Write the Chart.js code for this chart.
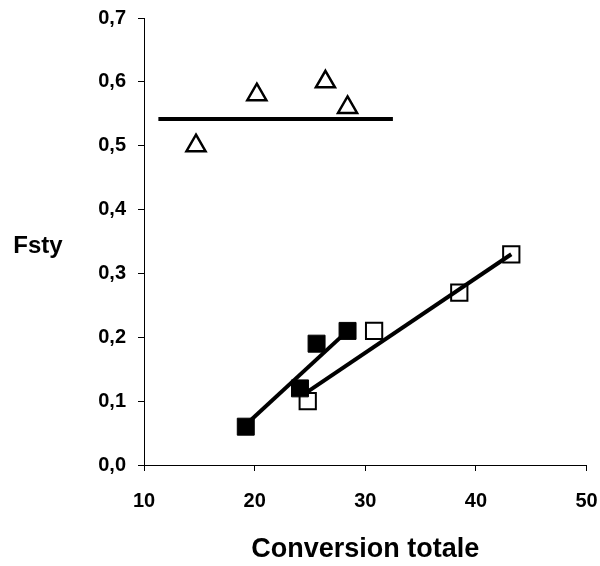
<!DOCTYPE html>
<html>
<head>
<meta charset="utf-8">
<script src="https://cdn.jsdelivr.net/npm/chart.js@4"></script>
<style>
  html, body { margin: 0; padding: 0; background: #fff; }
  #wrap { width: 600px; height: 566px; }
</style>
</head>
<body>
<div id="wrap"><canvas id="fsty"></canvas></div>
<script>
// triangles
const triX = [14.7, 20.2, 26.4, 28.4];
const triY = [0.50, 0.58, 0.60, 0.56];
const triFitX = [11.3, 32.5];
const triFitY = [0.542, 0.542];

// filled squares
const fillX = [19.2, 24.1, 25.6, 28.4];
const fillY = [0.06, 0.12, 0.19, 0.21];
const fillFitX = [19.2, 28.4];
const fillFitY = [0.063, 0.21];

// open squares
const openX = [24.8, 30.8, 38.5, 43.2];
const openY = [0.10, 0.21, 0.27, 0.33];
const openFitX = [24.8, 43.2];
const openFitY = [0.115, 0.33];

const xTicks = [10, 20, 30, 40, 50];
const yTicks = [0, 0.1, 0.2, 0.3, 0.4, 0.5, 0.6, 0.7];

function pts(xs, ys) {
    return xs.map((x, i) => ({ x: x, y: ys[i] }));
}

function fitLine(xs, ys) {
    return {
        type: 'line',
        data: pts(xs, ys),
        borderColor: '#000',
        borderWidth: 4,
        pointRadius: 0,
        fill: false
    };
}

const yLabel = {
    id: 'yLabel',
    afterDraw(chart) {
        const c = chart.ctx;
        c.save();
        c.font = 'bold 24px "Liberation Sans", Arial, sans-serif';
        c.fillStyle = '#000';
        c.textAlign = 'center';
        c.textBaseline = 'alphabetic';
        c.fillText('Fsty', 38, 253);
        c.restore();
    }
};

const ctx = document.getElementById('fsty');

new Chart(ctx, {
    type: 'scatter',
    data: {
        datasets: [
            fitLine(triFitX, triFitY),
            fitLine(fillFitX, fillFitY),
            fitLine(openFitX, openFitY),
            {
                data: pts(triX, triY),
                pointStyle: 'triangle',
                pointRadius: 11,
                pointBorderWidth: 2.5,
                pointBorderColor: '#000',
                pointBackgroundColor: '#fff'
            },
            {
                data: pts(fillX, fillY),
                pointStyle: 'rect',
                pointRadius: 12,
                pointBorderWidth: 1,
                pointBorderColor: '#000',
                pointBackgroundColor: '#000'
            },
            {
                data: pts(openX, openY),
                pointStyle: 'rect',
                pointRadius: 11.5,
                pointBorderWidth: 2,
                pointBorderColor: '#000',
                pointBackgroundColor: '#fff'
            }
        ]
    },
    options: {
        responsive: true,
        maintainAspectRatio: false,
        animation: false,
        layout: { padding: { top: 18, right: 3, left: 0, bottom: 0 } },
        plugins: {
            legend: { display: false },
            tooltip: { enabled: false }
        },
        scales: {
            x: {
                type: 'linear',
                min: 10,
                max: 50,
                afterBuildTicks: (s) => { s.ticks = xTicks.map(v => ({ value: v })); },
                afterFit: (s) => { s.height = 101; s.paddingRight = 11; s.paddingLeft = 0; },
                border: { color: '#000', width: 1 },
                grid: { drawOnChartArea: false, color: '#000', tickLength: 6 },
                ticks: {
                    color: '#000',
                    padding: 18,
                    font: { family: '"Liberation Sans", Arial', size: 20, weight: 'bold' }
                },
                title: {
                    display: true,
                    text: 'Conversion totale',
                    color: '#000',
                    padding: { top: 0, bottom: 0 },
                    font: { family: '"Liberation Sans", Arial', size: 27, weight: 'bold' }
                }
            },
            y: {
                type: 'linear',
                min: 0,
                max: 0.7,
                afterBuildTicks: (s) => { s.ticks = yTicks.map(v => ({ value: v })); },
                afterFit: (s) => { s.width = 144; s.paddingTop = 0; s.paddingBottom = 0; },
                border: { color: '#000', width: 1 },
                grid: { drawOnChartArea: false, color: '#000', tickLength: 6 },
                ticks: {
                    color: '#000',
                    padding: 12,
                    callback: (v) => v.toFixed(1).replace('.', ','),
                    font: { family: '"Liberation Sans", Arial', size: 20, weight: 'bold' }
                }
            }
        }
    },
    plugins: [yLabel]
});
</script>
</body>
</html>
